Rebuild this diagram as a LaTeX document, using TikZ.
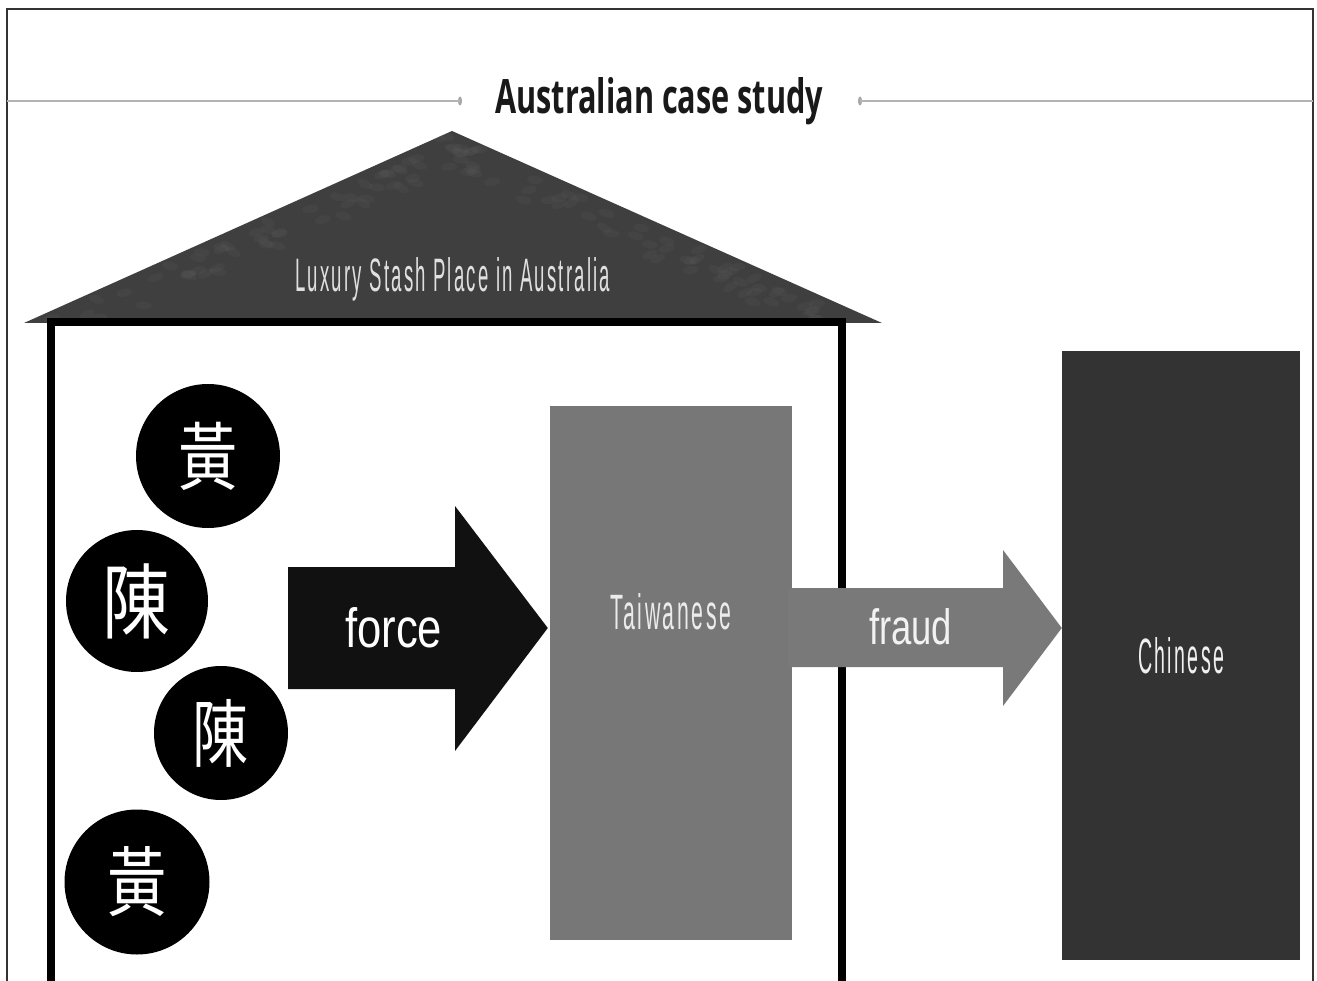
\documentclass[tikz,border=0pt]{standalone}
\usepackage{fontspec}
\usepackage{graphicx}
\setmainfont{Liberation Sans}
\newfontfamily\titlefont{Open Sans}
\newfontfamily\condfont[LetterSpace=12]{Liberation Sans}
\newfontfamily\cjk{Noto Sans CJK TC}
\usetikzlibrary{calc,shapes.geometric}

\definecolor{roofgray}{HTML}{3F3F3F}
\definecolor{roofspeck}{HTML}{5C5C5C}
\definecolor{taiwangray}{HTML}{777777}
\definecolor{fraudgray}{HTML}{797979}
\definecolor{chinagray}{HTML}{333333}
\definecolor{forceblack}{HTML}{111111}
\definecolor{rulegray}{HTML}{B4B4B4}

\tikzset{
  frameline/.style={draw=black!80, line width=2pt},
  ruleline/.style={draw=rulegray, line width=1.5pt},
  ruledot/.style={ellipse, fill=black!35, inner sep=0, minimum width=4pt, minimum height=9pt},
  wall/.style={draw=black, line width=8.5pt},
  person/.style={circle, fill=black, inner sep=0, text=white},
  txt/.style={inner sep=0, anchor=base west},
  block/.style={rectangle, inner sep=0},
}

\begin{document}
\begin{tikzpicture}[x=1pt, y=-1pt]
  \useasboundingbox (0,0) rectangle (1317,981);
  \fill[white] (0,0) rectangle (1317,981);

  % slide frame (open at the bottom)
  \draw[frameline] (7,990) -- (7,9.5) -- (1313,9.5) -- (1313,990);

  % title with its rule
  \node[txt, text=black!90] (title) at (495,114)
    {\resizebox{328pt}{36pt}{\titlefont\bfseries Australian case study}};
  \node[ruledot] (dotL) at (460,101) {};
  \node[ruledot] (dotR) at (860,101) {};
  \coordinate (ruleL) at (7,101);
  \coordinate (ruleR) at (1313,101);
  \draw[ruleline] (ruleL) -- (dotL.center);
  \draw[ruleline] (dotR.center) -- (ruleR);

  % roof, with a faint mottled texture along its slopes
  \coordinate (apex) at (452,131);
  \coordinate (eaveL) at (24,323);
  \coordinate (eaveR) at (882,323);
  \fill[roofgray] (apex) -- (eaveR) -- (eaveL) -- cycle;
  \begin{scope}
    \clip (apex) -- (eaveR) -- (eaveL) -- cycle;
    \pgfmathsetseed{11}
    \foreach \i in {1,...,60}{
      \pgfmathsetmacro{\t}{rnd}
      \pgfmathsetmacro{\d}{10+40*rnd}
      \pgfmathsetmacro{\a}{60*rnd-30}
      \fill[roofspeck, opacity=0.2, rotate around={\a:(452-428*\t+\d,131+192*\t+\d*0.3)}]
        (452-428*\t+\d,131+192*\t+\d*0.3) ellipse (8pt and 4pt);
      \pgfmathsetmacro{\u}{rnd}
      \pgfmathsetmacro{\e}{10+40*rnd}
      \fill[roofspeck, opacity=0.2, rotate around={-\a:(452+430*\u-\e,131+192*\u+\e*0.3)}]
        (452+430*\u-\e,131+192*\u+\e*0.3) ellipse (8pt and 4pt);
    }
  \end{scope}
  \node[txt, text=black!12] (roofname) at (295,292)
    {\resizebox{315pt}{34pt}{\condfont Luxury Stash Place in Australia}};

  % house walls
  \draw[wall] (51,990) -- (51,322) -- (842,322) -- (842,990);

  % the four family members
  \node[person, minimum size=144pt] (huang1) at (208,456)
    {\scalebox{0.8}[1]{\fontsize{74pt}{74pt}\selectfont\cjk 黃}};
  \node[person, minimum size=142pt] (chen1) at (137,601)
    {\scalebox{0.83}[1]{\fontsize{82pt}{82pt}\selectfont\cjk 陳}};
  \node[person, minimum size=134pt] (chen2) at (221,733)
    {\scalebox{0.76}[1]{\fontsize{74pt}{74pt}\selectfont\cjk 陳}};
  \node[person, minimum size=145pt] (huang2) at (137,882)
    {\scalebox{0.78}[1]{\fontsize{76pt}{76pt}\selectfont\cjk 黃}};

  % Taiwanese and Chinese blocks
  \node[block, fill=taiwangray, minimum width=242pt, minimum height=534pt] (taiwan) at (671,673) {};
  \node[txt, text=black!8] (taiwanname) at (610,629)
    {\resizebox{121pt}{36pt}{\condfont Taiwanese}};
  \node[block, fill=chinagray, minimum width=238pt, minimum height=609pt] (china) at (1181,655.5) {};
  \node[txt, text=black!6] (chinaname) at (1138,673)
    {\resizebox{86pt}{36pt}{\condfont Chinese}};

  % force arrow: family -> Taiwanese
  \coordinate (fA) at (288,567);
  \coordinate (fB) at (455,567);
  \coordinate (fC) at (455,506);
  \coordinate (ftip) at ($(taiwan.west)+(-2,-45)$);
  \coordinate (fD) at (455,751);
  \coordinate (fE) at (455,689);
  \coordinate (fF) at (288,689);
  \fill[forceblack] (fA) -- (fB) -- (fC) -- (ftip) -- (fD) -- (fE) -- (fF) -- cycle;
  \node[txt, text=white] (forcename) at (345,647)
    {\resizebox{97pt}{40pt}{force}};

  % fraud arrow: Taiwanese -> Chinese
  \coordinate (gA) at ($(taiwan.east)+(-4,-85)$);
  \coordinate (gB) at (1003,588);
  \coordinate (gC) at (1003,550);
  \coordinate (gtip) at ($(china.west)+(0,-27.5)$);
  \coordinate (gD) at (1003,706);
  \coordinate (gE) at (1003,667);
  \coordinate (gF) at ($(taiwan.east)+(-4,-6)$);
  \fill[fraudgray] (gA) -- (gB) -- (gC) -- (gtip) -- (gD) -- (gE) -- (gF) -- cycle;
  \node[txt, text=black!5] (fraudname) at (869,644)
    {\resizebox{83pt}{36pt}{fraud}};
\end{tikzpicture}
\end{document}
